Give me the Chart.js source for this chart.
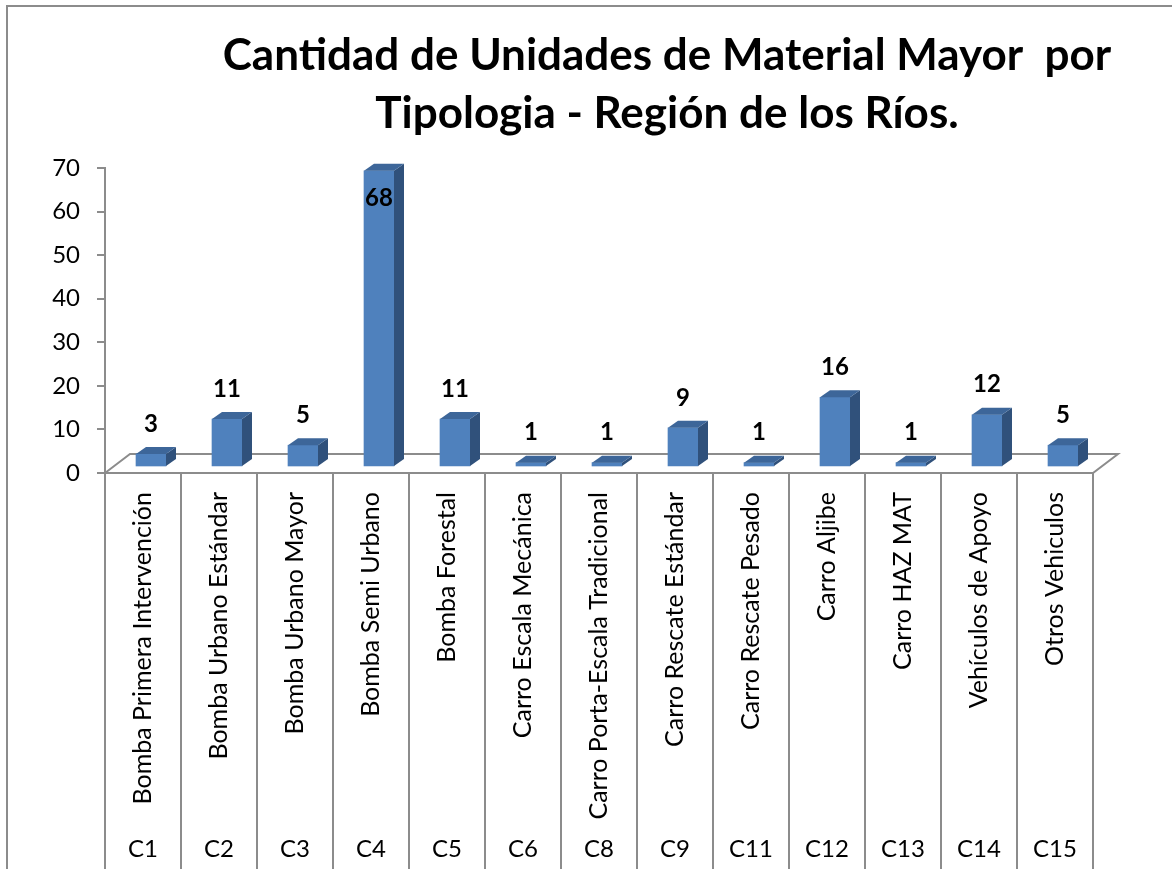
<!DOCTYPE html>
<html>
<head>
<meta charset="utf-8">
<title>Material Mayor por Tipologia</title>
<script src="https://cdn.jsdelivr.net/npm/chart.js@4.4.0/dist/chart.umd.min.js"></script>
<style>
    html, body { margin: 0; padding: 0; background: #ffffff; }
    #wrap { position: relative; width: 1172px; height: 869px; }
</style>
</head>
<body>
<div id="wrap"><canvas id="chart"></canvas></div>
<script>
// Chart data
const titleLines = ['Cantidad de Unidades de Material Mayor  por', 'Tipologia - Región de los Ríos.'];
const categoryNames = [
    'Bomba Primera Intervención',
    'Bomba Urbano Estándar',
    'Bomba Urbano Mayor',
    'Bomba Semi Urbano',
    'Bomba Forestal',
    'Carro Escala Mecánica',
    'Carro Porta-Escala Tradicional',
    'Carro Rescate Estándar',
    'Carro Rescate Pesado',
    'Carro Aljibe',
    'Carro HAZ MAT',
    'Vehículos de Apoyo',
    'Otros Vehiculos'
];
const categoryCodes = ['C1', 'C2', 'C3', 'C4', 'C5', 'C6', 'C8', 'C9', 'C11', 'C12', 'C13', 'C14', 'C15'];
const unitCounts = [3, 11, 5, 68, 11, 1, 1, 9, 1, 16, 1, 12, 5];
const yTicks = [0, 10, 20, 30, 40, 50, 60, 70];

// Look
const FONT = 'Lato';
const AXIS_GREY = '#8c8c8c';
const FRONT = '#4f81bd';
const SIDE = '#30517b';
const TOP = '#3d6699';
// 3D projection offsets
const BAR_SHIFT = { x: 8, y: -6 };
const BAR_DEPTH = { x: 10, y: -7 };
const FLOOR_DEPTH = { x: 25, y: -19 };

// Draws the frame, title, floor, bar sides and value labels
const excel3d = {
    id: 'excel3d',
    beforeDraw(chart) {
        const ctx = chart.ctx;
        ctx.save();
        // outer frame (left and top edges)
        ctx.strokeStyle = AXIS_GREY;
        ctx.lineWidth = 2;
        ctx.beginPath();
        ctx.moveTo(7, chart.height);
        ctx.lineTo(7, 6);
        ctx.lineTo(chart.width, 6);
        ctx.stroke();
        // title
        ctx.fillStyle = '#000';
        ctx.font = 'bold 44px ' + FONT;
        ctx.textAlign = 'center';
        ctx.textBaseline = 'alphabetic';
        ctx.fillText(titleLines[0], 667, 70);
        ctx.fillText(titleLines[1], 667, 128);
        ctx.restore();
    },
    beforeDatasetsDraw(chart) {
        const ctx = chart.ctx;
        const area = chart.chartArea;
        const xs = chart.scales.x;
        const left = area.left, right = xs.right, bottom = area.bottom;
        ctx.save();
        ctx.strokeStyle = AXIS_GREY;
        ctx.lineWidth = 2;
        // floor
        ctx.beginPath();
        ctx.moveTo(left, bottom);
        ctx.lineTo(left + FLOOR_DEPTH.x, bottom + FLOOR_DEPTH.y);
        ctx.lineTo(right + FLOOR_DEPTH.x, bottom + FLOOR_DEPTH.y);
        ctx.lineTo(right, bottom);
        ctx.lineTo(left, bottom);
        ctx.stroke();
        // category separators below the axis
        const step = (xs.right - xs.left) / categoryNames.length;
        ctx.beginPath();
        for (let i = 0; i <= categoryNames.length; i++) {
            const px = Math.round(xs.getPixelForValue(i) - step / 2);
            ctx.moveTo(px, bottom);
            ctx.lineTo(px, chart.height);
        }
        ctx.stroke();
        ctx.restore();
        // shift bars back into the middle of the floor depth
        ctx.save();
        ctx.translate(BAR_SHIFT.x, BAR_SHIFT.y);
    },
    afterDatasetsDraw(chart) {
        const ctx = chart.ctx;
        const meta = chart.getDatasetMeta(0);
        meta.data.forEach((bar, i) => {
            const p = bar.getProps(['x', 'y', 'base', 'width'], true);
            const l = p.x - p.width / 2, r = p.x + p.width / 2;
            // side face
            ctx.fillStyle = SIDE;
            ctx.beginPath();
            ctx.moveTo(r, p.y);
            ctx.lineTo(r + BAR_DEPTH.x, p.y + BAR_DEPTH.y);
            ctx.lineTo(r + BAR_DEPTH.x, p.base + BAR_DEPTH.y);
            ctx.lineTo(r, p.base);
            ctx.closePath();
            ctx.fill();
            // top face
            ctx.fillStyle = TOP;
            ctx.beginPath();
            ctx.moveTo(l, p.y);
            ctx.lineTo(l + BAR_DEPTH.x, p.y + BAR_DEPTH.y);
            ctx.lineTo(r + BAR_DEPTH.x, p.y + BAR_DEPTH.y);
            ctx.lineTo(r, p.y);
            ctx.closePath();
            ctx.fill();
            // value label
            let ly = p.y - 30;
            if (ly - BAR_SHIFT.y < chart.chartArea.top) ly = p.y + 28;
            ctx.fillStyle = '#000';
            ctx.font = 'bold 24px ' + FONT;
            ctx.textAlign = 'center';
            ctx.textBaseline = 'middle';
            ctx.fillText(String(unitCounts[i]), p.x, ly);
        });
        ctx.restore();
    }
};

const ctx = document.getElementById('chart').getContext('2d');
new Chart(ctx, {
    type: 'bar',
    data: {
        labels: categoryNames,
        datasets: [{
            data: unitCounts,
            backgroundColor: FRONT,
            borderWidth: 0,
            barThickness: 30
        }]
    },
    options: {
        responsive: true,
        maintainAspectRatio: false,
        animation: false,
        layout: { padding: { left: 0, top: 168, right: 79, bottom: 0 } },
        plugins: {
            legend: { display: false },
            title: { display: false },
            tooltip: { enabled: false }
        },
        scales: {
            x: {
                type: 'category',
                labels: categoryNames,
                position: 'bottom',
                weight: 0,
                offset: true,
                grid: { display: false, drawTicks: false },
                border: { display: false },
                ticks: {
                    autoSkip: false,
                    minRotation: 90,
                    maxRotation: 90,
                    padding: 19,
                    color: '#000',
                    font: { family: FONT, size: 25 }
                },
                afterFit: s => { s.height = 355; }
            },
            x2: {
                type: 'category',
                labels: categoryCodes,
                position: 'bottom',
                weight: 1,
                offset: true,
                grid: { display: false, drawTicks: false },
                border: { display: false },
                ticks: {
                    autoSkip: false,
                    maxRotation: 0,
                    padding: 7,
                    color: '#000',
                    font: { family: FONT, size: 24 }
                },
                afterFit: s => { s.height = 41; }
            },
            y: {
                min: 0,
                max: 70,
                afterBuildTicks: s => { s.ticks = yTicks.map(v => ({ value: v })); },
                grid: { drawOnChartArea: false, tickLength: 8, color: AXIS_GREY, lineWidth: 2 },
                border: { color: AXIS_GREY, width: 2 },
                ticks: {
                    padding: 17,
                    color: '#000',
                    font: { family: FONT, size: 24 }
                },
                afterFit: s => { s.width = 105; }
            }
        }
    },
    plugins: [excel3d]
});
</script>
</body>
</html>
